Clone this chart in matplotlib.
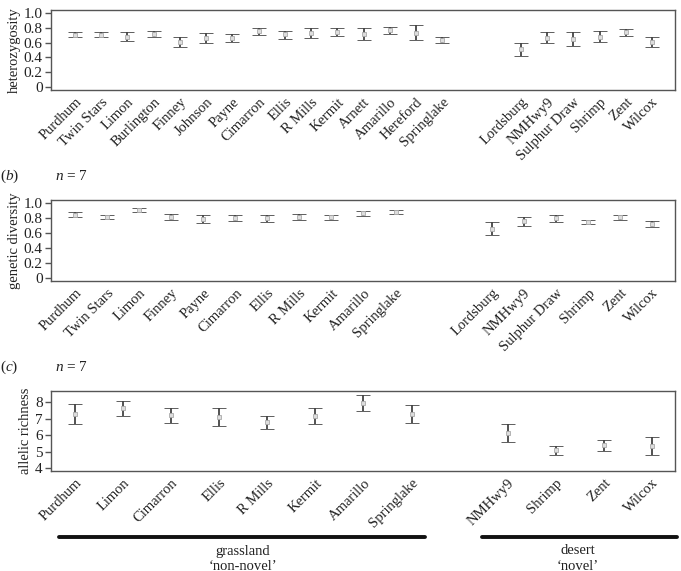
import matplotlib
matplotlib.use("Agg")
import matplotlib.pyplot as plt
from matplotlib.lines import Line2D

plt.rcParams['font.family'] = ['Liberation Serif', 'DejaVu Serif']
plt.rcParams['mathtext.fontset'] = 'custom'
plt.rcParams['mathtext.rm'] = 'Liberation Serif'
plt.rcParams['mathtext.it'] = 'Liberation Serif:italic'

# ---- data ----
# (a) heterozygosity
het_sites = ["Purdhum", "Twin Stars", "Limon", "Burlington", "Finney", "Johnson", "Payne",
             "Cimarron", "Ellis", "R Mills", "Kermit", "Arnett", "Amarillo", "Hereford",
             "Springlake", "Lordsburg", "NMHwy9", "Sulphur Draw", "Shrimp", "Zent", "Wilcox"]
het_pos = [1, 2, 3, 4, 5, 6, 7, 8, 9, 10, 11, 12, 13, 14, 15, 18, 19, 20, 21, 22, 23]
het_mean = [0.70, 0.70, 0.68, 0.71, 0.61, 0.66, 0.66, 0.75, 0.71, 0.73, 0.74, 0.72, 0.77,
            0.735, 0.64, 0.51, 0.66, 0.65, 0.68, 0.74, 0.61]
het_hi = [0.74, 0.74, 0.74, 0.75, 0.68, 0.73, 0.71, 0.80, 0.76, 0.795, 0.795, 0.80, 0.81,
          0.835, 0.68, 0.60, 0.74, 0.74, 0.755, 0.78, 0.68]
het_lo = [0.67, 0.67, 0.625, 0.67, 0.545, 0.59, 0.61, 0.70, 0.655, 0.66, 0.69, 0.64, 0.72,
          0.635, 0.60, 0.42, 0.59, 0.56, 0.61, 0.69, 0.545]

# (b) genetic diversity
gd_sites = ["Purdhum", "Twin Stars", "Limon", "Finney", "Payne", "Cimarron", "Ellis",
            "R Mills", "Kermit", "Amarillo", "Springlake", "Lordsburg", "NMHwy9",
            "Sulphur Draw", "Shrimp", "Zent", "Wilcox"]
gd_pos = [1, 2, 3, 4, 5, 6, 7, 8, 9, 10, 11, 14, 15, 16, 17, 18, 19]
gd_mean = [0.845, 0.82, 0.91, 0.815, 0.79, 0.80, 0.795, 0.815, 0.81, 0.865, 0.88,
           0.66, 0.76, 0.795, 0.75, 0.81, 0.72]
gd_hi = [0.875, 0.845, 0.94, 0.855, 0.835, 0.845, 0.84, 0.855, 0.845, 0.90, 0.91,
         0.745, 0.82, 0.845, 0.78, 0.845, 0.76]
gd_lo = [0.815, 0.79, 0.885, 0.78, 0.74, 0.755, 0.75, 0.78, 0.78, 0.83, 0.85,
         0.58, 0.70, 0.745, 0.72, 0.78, 0.685]

# (c) allelic richness
ar_sites = ["Purdhum", "Limon", "Cimarron", "Ellis", "R Mills", "Kermit", "Amarillo",
            "Springlake", "NMHwy9", "Shrimp", "Zent", "Wilcox"]
ar_pos = [1, 2, 3, 4, 5, 6, 7, 8, 10, 11, 12, 13]
ar_mean = [7.28, 7.65, 7.22, 7.10, 6.82, 7.16, 7.96, 7.28, 6.14, 5.07, 5.37, 5.33]
ar_hi = [7.86, 8.06, 7.62, 7.62, 7.14, 7.62, 8.40, 7.82, 6.69, 5.31, 5.69, 5.87]
ar_lo = [6.67, 7.18, 6.75, 6.53, 6.39, 6.65, 7.46, 6.75, 5.59, 4.78, 5.03, 4.78]

W, H = 681, 571
fig = plt.figure(figsize=(W / 100, H / 100), dpi=100)
txt = '#222222'
lc = '#444444'


def panel(rect, pos, sites, mean, lo, hi, xlim, ylim, yticks, yticklabels, ylabel):
    ax = fig.add_axes(rect)
    yerr = [[m - l for m, l in zip(mean, lo)], [h - m for m, h in zip(mean, hi)]]
    ax.errorbar(pos, mean, yerr=yerr, fmt='s', ms=2.5, mfc='#dddddd', mec='#aaaaaa',
                mew=0.6, ecolor=lc, elinewidth=1.3, capsize=5, capthick=1.3)
    ax.set_xlim(*xlim)
    ax.set_ylim(*ylim)
    ax.set_yticks(yticks)
    ax.set_yticklabels(yticklabels, fontsize=11, color=txt)
    ax.set_xticks(pos)
    ax.set_xticklabels(sites, rotation=45, ha='right', rotation_mode='anchor',
                       fontsize=10.5, color=txt)
    ax.tick_params(axis='x', length=0, pad=4)
    ax.tick_params(axis='y', length=4, width=1, color='#555555', pad=2)
    for s in ax.spines.values():
        s.set_color('#555555')
        s.set_linewidth(1)
    ax.set_ylabel(ylabel, fontsize=10.5, color=txt, labelpad=2)
    return ax


def frac_rect(left, top, right, bottom):
    return [left / W, 1 - bottom / H, (right - left) / W, (bottom - top) / H]


panel(frac_rect(51, 10, 675, 90), het_pos, het_sites, het_mean, het_lo, het_hi,
      (0.09, 23.87), (-0.0405, 1.0405), [0, 0.2, 0.4, 0.6, 0.8, 1.0],
      ['0', '0.2', '0.4', '0.6', '0.8', '1.0'], 'heterozygosity')

panel(frac_rect(51, 200, 675, 281), gd_pos, gd_sites, gd_mean, gd_lo, gd_hi,
      (0.25, 19.72), (-0.04, 1.04), [0, 0.2, 0.4, 0.6, 0.8, 1.0],
      ['0', '0.2', '0.4', '0.6', '0.8', '1.0'], 'genetic diversity')

panel(frac_rect(51, 391, 675, 471), ar_pos, ar_sites, ar_mean, ar_lo, ar_hi,
      (0.5, 13.48), (3.82, 8.67), [4, 5, 6, 7, 8],
      ['4', '5', '6', '7', '8'], 'allelic richness')

# panel labels
for y, lab in [(176, '($b$)'), (367, '($c$)')]:
    fig.text(0 / W, 1 - y / H, lab, fontsize=11, color=txt, va='center', ha='left')
    fig.text(55 / W, 1 - y / H, '$n$ = 7', fontsize=11, color=txt, va='center', ha='left')

# habitat bars
for x0, x1, xc, l1, l2 in [(59, 425, 243, 'grassland', '\u2018non-novel\u2019'),
                           (482, 677, 578, 'desert', '\u2018novel\u2019')]:
    fig.add_artist(Line2D([x0 / W, x1 / W], [1 - 537 / H, 1 - 537 / H],
                          color='#111111', lw=2.8, solid_capstyle='round'))
    fig.text(xc / W, 1 - 551 / H, l1, fontsize=10.5, color=txt, ha='center', va='center')
    fig.text(xc / W, 1 - 566 / H, l2, fontsize=10.5, color=txt, ha='center', va='center')

fig.savefig('out.png', dpi=100, facecolor='white')
